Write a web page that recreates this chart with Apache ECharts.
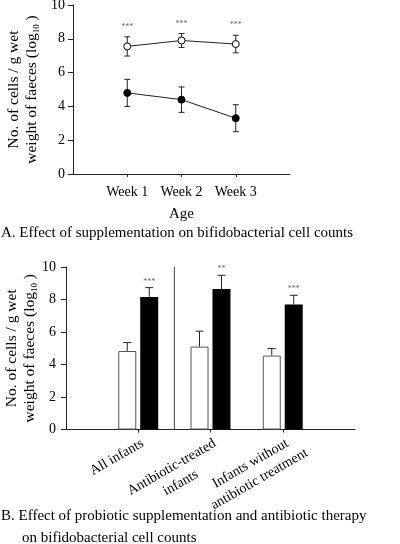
<!DOCTYPE html>
<html><head><meta charset="utf-8">
<script src="https://cdn.jsdelivr.net/npm/echarts@6/dist/echarts.min.js"></script>
<style>html,body{margin:0;padding:0;background:#fff}#c{width:400px;height:544px}</style>
</head><body><div id="c"></div>
<script>
// ---- data (panel A) ----
const weeks = ['Week 1', 'Week 2', 'Week 3'];
const supplementedMean = [7.55, 7.9, 7.69];
const supplementedSD = [0.57, 0.41, 0.52];
const controlMean = [4.8, 4.4, 3.3];
const controlSD = [0.8, 0.75, 0.8];
const topSig = ['***', '***', '***'];
// ---- data (panel B) ----
const groups = ['All infants', 'Antibiotic-treated\ninfants', 'Infants without\nantibiotic treatment'];
const placeboMean = [4.83, 5.1, 4.55];
const placeboErr = [0.52, 0.95, 0.43];
const probioticMean = [8.16, 8.65, 7.69];
const probioticErr = [0.57, 0.84, 0.57];
const bottomSig = ['', '', ''];
const bottomSigProbiotic = ['***', '**', '***'];
const yTickValues = [0, 2, 4, 6, 8, 10];

const FONT = 'Liberation Serif';
const AXIS_COLOR = '#222';

const chart = echarts.init(document.getElementById('c'), null, {renderer: 'canvas'});

// category positions on a 0..(n+1) value axis
const weekPos = weeks.map((w, i) => i + 1);
const groupPos = groups.map((g, i) => i + 1);

function errBars(shift, twoSided, capHalf, sigGap) {
  return function (params, api) {
    const xv = api.value(0);
    const m = api.value(1), e = api.value(2);
    const sig = api.value(3);
    const top = api.coord([xv, m + e]);
    const bot = api.coord([xv, twoSided ? m - e : m]);
    const x = top[0] + shift;
    const children = [
      {type: 'line', shape: {x1: x, y1: top[1], x2: x, y2: bot[1]}, style: {stroke: '#222', lineWidth: 1}},
      {type: 'line', shape: {x1: x - capHalf, y1: top[1], x2: x + capHalf, y2: top[1]}, style: {stroke: '#222', lineWidth: 1}}
    ];
    if (twoSided) {
      children.push({type: 'line', shape: {x1: x - capHalf, y1: bot[1], x2: x + capHalf, y2: bot[1]}, style: {stroke: '#222', lineWidth: 1}});
    }
    if (sig && String(sig).trim()) {
      children.push({type: 'text', x: x, y: top[1] - sigGap,
        style: {text: String(sig), fill: '#666', font: '8px "' + FONT + '"', align: 'center', verticalAlign: 'bottom'}});
    }
    return {type: 'group', children: children};
  };
}

const yNameRich = {
  n: {fontFamily: FONT, fontSize: 15.5, color: '#000', lineHeight: 18, align: 'center'},
  s: {fontFamily: FONT, fontSize: 9, color: '#000', lineHeight: 6, verticalAlign: 'bottom', align: 'center'}
};
const yName = '{n|No. of cells / g wet}\n{n|weight of faeces (log}{s|10}{n| )}';

const valueAxisCommon = {
  type: 'value', min: 0, max: 10, interval: 2,
  axisLine: {show: true, lineStyle: {color: AXIS_COLOR, width: 1}},
  axisTick: {show: true, length: 5, lineStyle: {color: AXIS_COLOR}},
  splitLine: {show: false},
  name: yName, nameLocation: 'middle', nameRotate: 90, nameMoveOverlap: false,
  nameTextStyle: {fontFamily: FONT, fontSize: 15.5, color: '#000', lineHeight: 18, rich: yNameRich},
  axisLabel: {fontFamily: FONT, fontSize: 14, color: '#000',
    formatter: v => yTickValues.indexOf(v) >= 0 ? String(v) : ''}
};

const labelRich = {
  l1: {fontFamily: FONT, fontSize: 14, color: '#000', lineHeight: 18, align: 'center'},
  l2: {fontFamily: FONT, fontSize: 14, color: '#000', lineHeight: 18, align: 'center', width: 100},
  l3: {fontFamily: FONT, fontSize: 14, color: '#000', lineHeight: 18, align: 'center', width: 85}
};

const option = {
  animation: false,
  backgroundColor: '#fff',
  title: [
    {text: 'A. Effect of supplementation on bifidobacterial cell counts', left: 1, top: 226, padding: 0,
      textStyle: {fontFamily: FONT, fontSize: 15, fontWeight: 'normal', color: '#000'}},
    {text: 'B. Effect of probiotic supplementation and antibiotic therapy', left: 1, top: 509, padding: 0,
      textStyle: {fontFamily: FONT, fontSize: 15, fontWeight: 'normal', color: '#000'}},
    {text: 'on bifidobacterial cell counts', left: 22, top: 531, padding: 0,
      textStyle: {fontFamily: FONT, fontSize: 15, fontWeight: 'normal', color: '#000'}}
  ],
  grid: [
    {left: 73, right: 110, top: 5, height: 169, containLabel: false, outerBoundsMode: 'none'},
    {left: 66, right: 45, top: 267, height: 162.5, containLabel: false, outerBoundsMode: 'none'}
  ],
  xAxis: [
    {gridIndex: 0, type: 'value', min: 0, max: weeks.length + 1, interval: 1,
      splitLine: {show: false},
      axisLine: {show: true, lineStyle: {color: AXIS_COLOR, width: 1}},
      axisTick: {show: true, length: 3, lineStyle: {color: AXIS_COLOR}, customValues: weekPos},
      axisLabel: {margin: 11, fontFamily: FONT, fontSize: 14, color: '#000', customValues: weekPos,
        formatter: v => weeks[v - 1] || ''},
      name: 'Age', nameLocation: 'middle', nameGap: 33, nameMoveOverlap: false,
      nameTextStyle: {fontFamily: FONT, fontSize: 15, color: '#000'}},
    {gridIndex: 1, type: 'value', min: 0, max: groups.length + 1, interval: 1,
      splitLine: {show: false},
      axisLine: {show: true, lineStyle: {color: AXIS_COLOR, width: 1}},
      axisTick: {show: true, length: 3, lineStyle: {color: AXIS_COLOR}, customValues: groupPos},
      axisLabel: {rotate: 30, margin: 5, align: 'right', verticalAlign: 'top', customValues: groupPos,
        fontFamily: FONT, fontSize: 14, color: '#000', rich: labelRich,
        formatter: v => {
          const g = groups[v - 1];
          if (!g) return '';
          return g.split('\n').map(l => '{l' + v + '|' + l + '}').join('\n');
        }}}
  ],
  yAxis: [
    Object.assign({}, valueAxisCommon, {gridIndex: 0, nameGap: 32, axisLabel: Object.assign({}, valueAxisCommon.axisLabel, {margin: 8})}),
    Object.assign({}, valueAxisCommon, {gridIndex: 1, nameGap: 27, axisLabel: Object.assign({}, valueAxisCommon.axisLabel, {margin: 10})})
  ],
  series: [
    // panel A error bars
    {type: 'custom', xAxisIndex: 0, yAxisIndex: 0, z: 1,
      renderItem: errBars(0, true, 3, 6),
      data: weeks.map((w, i) => [weekPos[i], supplementedMean[i], supplementedSD[i], topSig[i]])},
    {type: 'custom', xAxisIndex: 0, yAxisIndex: 0, z: 1,
      renderItem: errBars(0, true, 3, 6),
      data: weeks.map((w, i) => [weekPos[i], controlMean[i], controlSD[i], ''])},
    {type: 'line', name: 'Supplemented', xAxisIndex: 0, yAxisIndex: 0, z: 3,
      data: weeks.map((w, i) => [weekPos[i], supplementedMean[i]]),
      symbol: 'circle', symbolSize: 7,
      itemStyle: {color: '#fff', borderColor: '#000', borderWidth: 1},
      lineStyle: {color: '#222', width: 1}},
    {type: 'line', name: 'Control', xAxisIndex: 0, yAxisIndex: 0, z: 3,
      data: weeks.map((w, i) => [weekPos[i], controlMean[i]]),
      symbol: 'circle', symbolSize: 7,
      itemStyle: {color: '#000', borderColor: '#000', borderWidth: 1},
      lineStyle: {color: '#222', width: 1}},
    // panel B
    {type: 'bar', name: 'Placebo', xAxisIndex: 1, yAxisIndex: 1, z: 2,
      barWidth: 18, barGap: '22%',
      data: groups.map((g, i) => [groupPos[i], placeboMean[i]]),
      itemStyle: {color: '#fff', borderColor: '#555', borderWidth: 1}},
    {type: 'bar', name: 'Probiotic', xAxisIndex: 1, yAxisIndex: 1, z: 2,
      barWidth: 18, barGap: '22%',
      data: groups.map((g, i) => [groupPos[i], probioticMean[i]]),
      itemStyle: {color: '#000'}},
    {type: 'custom', xAxisIndex: 1, yAxisIndex: 1, z: 3,
      renderItem: errBars(-11, false, 4, 2),
      data: groups.map((g, i) => [groupPos[i], placeboMean[i], placeboErr[i], bottomSig[i]])},
    {type: 'custom', xAxisIndex: 1, yAxisIndex: 1, z: 3,
      renderItem: errBars(11, false, 4, 2),
      data: groups.map((g, i) => [groupPos[i], probioticMean[i], probioticErr[i], bottomSigProbiotic[i]])},
    // divider between "All infants" and the antibiotic subgroups
    {type: 'custom', xAxisIndex: 1, yAxisIndex: 1, z: 3,
      renderItem: function (params, api) {
        const xv = api.value(0);
        const a = api.coord([xv, 0]);
        const b = api.coord([xv + 1, 10]);
        const x = (a[0] + b[0]) / 2;
        return {type: 'line', shape: {x1: x, y1: b[1], x2: x, y2: a[1]}, style: {stroke: '#444', lineWidth: 1}};
      },
      data: [[groupPos[0], 10]]}
  ]
};
chart.setOption(option);
</script>
</body></html>
